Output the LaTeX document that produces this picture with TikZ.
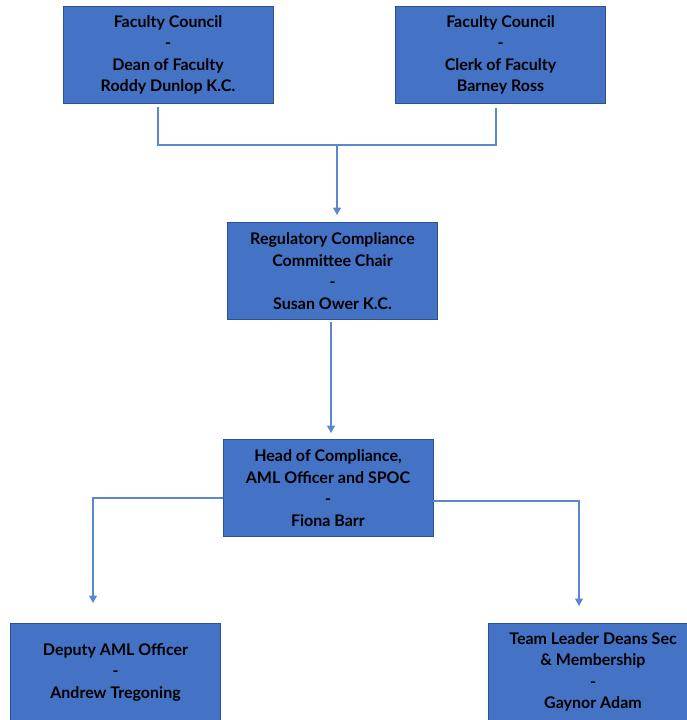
\documentclass[tikz,border=0pt]{standalone}
\usepackage{fontspec}
\setmainfont{Lato}
\usetikzlibrary{arrows.meta,positioning}

\definecolor{boxfill}{HTML}{4472C4}
\definecolor{boxline}{HTML}{2F528F}
\definecolor{linkcol}{HTML}{5B86D1}

\begin{document}
\begin{tikzpicture}[x=1pt,y=-1pt]
    \tikzstyle{role} = [draw=boxline, fill=boxfill, line width=0.9pt,
    minimum width=210pt, minimum height=97pt, inner sep=0pt,
    align=center, font=\fontsize{16}{21.5}\selectfont\bfseries]
    \tikzstyle{link} = [draw=linkcol, line width=1.2pt]
    \tikzstyle{arr} = [link, -{Triangle[width=8pt,length=7.5pt]}]

    \useasboundingbox (0,0) rectangle (687,720);
    \clip (0,0) rectangle (687,720);

    \node [role] (dean) at (168,55)
      {Faculty Council\\-\\Dean of Faculty\\Roddy Dunlop K.C.};
    \node [role] (clerk) at (500.5,55)
      {Faculty Council\\-\\Clerk of Faculty\\Barney Ross};
    \node [role] (chair) at (332.5,271)
      {Regulatory Compliance\\Committee Chair\\-\\Susan Ower K.C.};
    \node [role] (head) at (328,488)
      {Head of Compliance,\\AML Officer and SPOC\\-\\Fiona Barr};
    \node [role] (deputy) at (115.5,672)
      {Deputy AML Officer\\-\\Andrew Tregoning};
    \node [role] (leader) at (593,672)
      {Team Leader Deans Sec\\\& Membership\\-\\Gaynor Adam};

    \coordinate (join) at (337,145);
    \coordinate (dl) at (93,603);
    \coordinate (dr) at (579,606);

    \draw [link] ([xshift=-10pt,yshift=-3pt]dean.south) |- (join)
      -| ([xshift=-4.5pt,yshift=-4pt]clerk.south);
    \draw [arr] (join) -- ([xshift=4.5pt,yshift=7pt]chair.north);
    \draw [arr] ([xshift=-1.5pt,yshift=-2pt]chair.south)
      -- ([xshift=3pt,yshift=6pt]head.north);
    \draw [arr] ([yshift=-10pt]head.west) -| (dl);
    \draw [arr] ([yshift=-13pt]head.east) -| (dr);
\end{tikzpicture}
\end{document}
